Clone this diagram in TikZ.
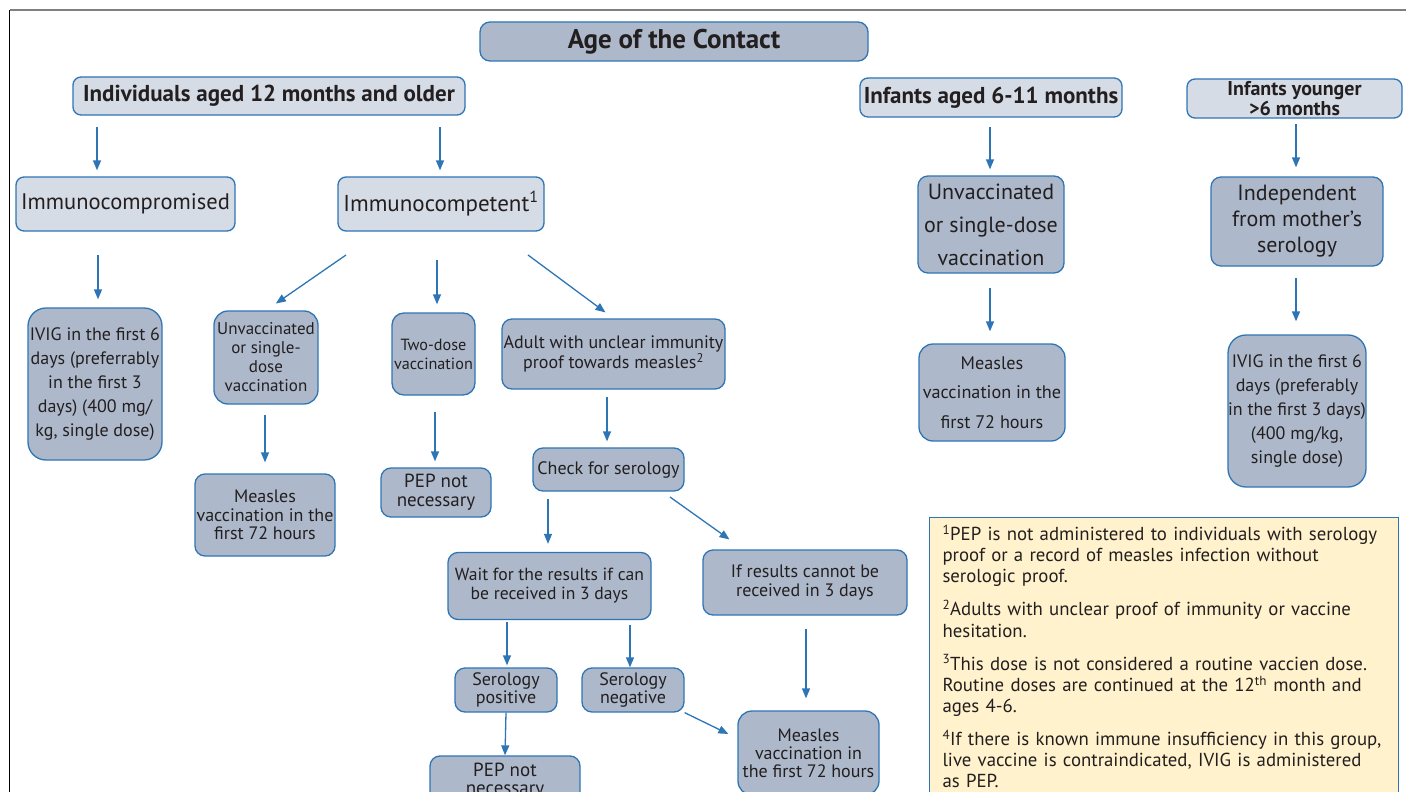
\documentclass[tikz,border=0pt]{standalone}
\usepackage{fontspec}
\setmainfont{PT Sans}
\usetikzlibrary{arrows.meta}
\definecolor{edge}{HTML}{2E75B6}
\definecolor{darkfill}{HTML}{ADB9CA}
\definecolor{lightfill}{HTML}{D6DCE5}
\definecolor{notefill}{HTML}{FFF2CC}
\definecolor{ink}{HTML}{231F20}
\newcommand{\fsz}[2]{\fontsize{#1}{#2}\selectfont}
\begin{document}
\begin{tikzpicture}[x=1pt, y=-1pt,
    every node/.style={text=ink, inner sep=0pt, align=center},
    sz/.style 2 args={minimum width=#1, minimum height=#2},
    lbox/.style={draw=edge, fill=lightfill, line width=1.3pt, rounded corners=8pt},
    dbox/.style={draw=edge, fill=darkfill, line width=1.3pt, rounded corners=10pt},
    arr/.style={draw=edge, line width=1.3pt, shorten >=6pt, -{Triangle[length=10pt,width=8pt]}}]
        \useasboundingbox (0,0) rectangle (1406,792);
        \clip (0,0) rectangle (1406,792);
        \draw[gray, line width=1.2pt] (10,10) -- (1406,10);
        \draw[black, line width=0.8pt] (9,10) -- (9,792);
        % top levels
        \node[dbox, sz={388}{39}, font=\bfseries\fsz{27}{30}] (age) at (674,41.5) {Age of the Contact};
        \node[lbox, sz={392}{38}, font=\bfseries\fsz{23}{26}] (indiv) at (269,96) {Individuals aged 12 months and older};
        \node[lbox, sz={262}{39}, font=\bfseries\fsz{23}{26}] (inf) at (991,97.5) {Infants aged 6-11 months};
        \node[lbox, sz={215}{39}, font=\bfseries\fsz{20}{17}] (young) at (1294.5,98.5) {Infants younger\\>6 months};
        \node[lbox, sz={219}{54}, font=\fsz{22.5}{25}] (comp) at (125.5,204) {Immunocompromised};
        \node[lbox, sz={206}{54}, font=\fsz{23}{25}] (compt) at (441,204) {Immunocompetent\textsuperscript{1}};
        \node[dbox, sz={146}{97}, font=\fsz{22}{33}] (unvr) at (991,224.5) {Unvaccinated\\or single-dose\\vaccination};
        \node[dbox, sz={172}{89}, font=\fsz{22}{26}] (indep) at (1297,221.5) {Independent\\from mother's\\serology};
        % third row
        \node[dbox, sz={134}{152}, rounded corners=18pt, font=\fsz{18}{24}] (ivigl) at (95,384) {IVIG in the first 6\\days (preferrably\\in the first 3\\days) (400 mg/\\kg, single dose)};
        \node[dbox, sz={104}{93}, rounded corners=14pt, font=\fsz{17}{19}] (unvm) at (266,357.5) {Unvaccinated\\or single-\\dose\\vaccination};
        \node[dbox, sz={83}{82}, rounded corners=12pt, font=\fsz{16.2}{19}] (two) at (433.5,354) {Two-dose\\vaccination};
        \node[dbox, sz={223}{70}, font=\fsz{18}{18}] (adult) at (613.5,354) {Adult with unclear immunity\\proof towards measles\textsuperscript{2}};
        \node[dbox, sz={146}{97}, rounded corners=14pt, font=\fsz{18.2}{29.5}] (mvr) at (992,392.5) {Measles\\vaccination in the\\first 72 hours};
        \node[dbox, sz={136}{152}, rounded corners=18pt, font=\fsz{18}{24}] (ivigr) at (1297,411) {IVIG in the first 6\\days (preferably\\in the first 3 days)\\(400 mg/kg,\\single dose)};
        % fourth row
        \node[dbox, sz={140}{82}, font=\fsz{18}{18.5}] (mvl) at (265,515) {Measles\\vaccination in the\\first 72 hours};
        \node[dbox, sz={110}{49}, font=\fsz{19}{19}] (pepm) at (436,492.5) {PEP not\\necessary};
        \node[dbox, sz={151}{43}, font=\fsz{18}{19}] (check) at (608.5,469.5) {Check for serology};
        \node[dbox, sz={203}{67}, font=\fsz{17.6}{19}] (wait) at (549.5,586) {Wait for the results if can\\be received in 3 days};
        \node[dbox, sz={204}{65}, font=\fsz{18}{19}] (ifres) at (805,582.5) {If results cannot be\\received in 3 days};
        \node[dbox, sz={102}{44}, font=\fsz{18}{18}] (spos) at (506,690) {Serology\\positive};
        \node[dbox, sz={102}{44}, font=\fsz{18}{18}] (sneg) at (633,690) {Serology\\negative};
        \node[dbox, sz={150}{50}, font=\fsz{19}{18}] (pepb) at (505,781) {PEP not\\necessary};
        \node[dbox, sz={141}{84}, rounded corners=14pt, font=\fsz{18}{18}] (mvb) at (808.5,753) {Measles\\vaccination in\\the first 72 hours};
        % footnotes
        \node[draw=edge, fill=notefill, line width=1pt, anchor=north west, minimum height=278, text width=443pt, inner xsep=13pt, align=left, font=\fsz{18.8}{21.2}] (notes) at (929,517) {\textsuperscript{1}PEP is not administered to individuals with serology\\proof or a record of measles infection without\\serologic proof.\\[11.8pt]
        \textsuperscript{2}Adults with unclear proof of immunity or vaccine\\hesitation.\\[11.8pt]
        \textsuperscript{3}This dose is not considered a routine vaccien dose.\\Routine doses are continued at the 12\textsuperscript{th} month and\\ages 4-6.\\[11.8pt]
        \textsuperscript{4}If there is known immune insufficiency in this group,\\live vaccine is contraindicated, IVIG is administered\\as PEP.};
        % arrows
        \coordinate (t1) at (97,127);
        \coordinate (t2) at (440,127);
        \coordinate (t3) at (990,127);
        \coordinate (t4) at (1296,124);
        \coordinate (t5) at (98,255);
        \coordinate (t6) at (437,260);
        \coordinate (t7) at (990,288);
        \coordinate (t8) at (1296,278);
        \coordinate (t9) at (265,415);
        \coordinate (t10) at (435,412);
        \coordinate (t11) at (607,397);
        \coordinate (t12) at (548,499);
        \coordinate (t13) at (507,622);
        \coordinate (t14) at (630,625);
        \coordinate (t15) at (806,629);
        \coordinate (d1) at (346,255);
        \coordinate (d2) at (528,255);
        \coordinate (d3) at (670,497);
        \draw[arr] (t1) -- (t1 |- comp.north);
        \draw[arr] (t2) -- (t2 |- compt.north);
        \draw[arr] (t3) -- (t3 |- unvr.north);
        \draw[arr, shorten >=9pt] (t4) -- (t4 |- indep.north);
        \draw[arr, shorten >=8pt] (t5) -- (t5 |- ivigl.north);
        \draw[arr, shorten >=8pt] (t6) -- (t6 |- two.north);
        \draw[arr, shorten >=12pt] (t7) -- (t7 |- mvr.north);
        \draw[arr, shorten >=13pt] (t8) -- (t8 |- ivigr.north);
        \draw[arr, shorten >=11pt] (t9) -- (t9 |- mvl.north);
        \draw[arr] (t10) -- (t10 |- pepm.north);
        \draw[arr] (t11) -- (t11 |- check.north);
        \draw[arr, shorten >=8pt] (t12) -- (t12 |- wait.north);
        \draw[arr, shorten >=2pt] (t13) -- (t13 |- spos.north);
        \draw[arr, shorten >=0pt] (t14) -- (t14 |- sneg.north);
        \draw[arr, shorten >=12pt] (t15) -- (t15 |- mvb.north);
        \draw[arr, shorten >=0pt] (spos.south) -- (pepb.north);
        \draw[arr, shorten >=12pt] (d1) -- (unvm.north);
        \draw[arr, shorten >=10pt] (d2) -- (adult.north);
        \draw[arr, shorten >=17pt] (d3) -- ([xshift=41pt]ifres.north west);
        \draw[arr, shorten >=10pt] (sneg.south east) -- ([yshift=-28pt]mvb.north west);
\end{tikzpicture}
\end{document}
